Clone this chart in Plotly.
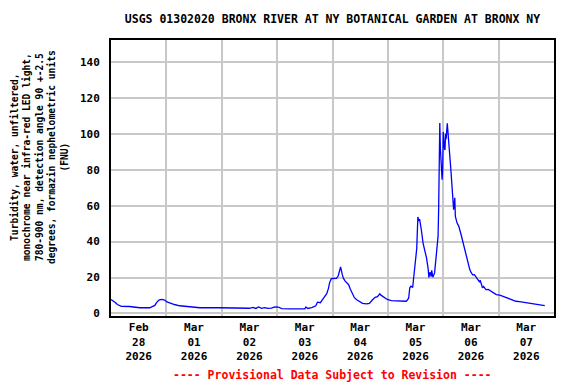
import plotly.graph_objects as go

# ---- data ----
times = [
    "2026-02-28 00:00", "2026-02-28 00:45", "2026-02-28 01:30", "2026-02-28 02:00", "2026-02-28 02:45",
    "2026-02-28 03:45", "2026-02-28 04:30", "2026-02-28 08:00", "2026-02-28 10:15", "2026-02-28 12:30",
    "2026-02-28 16:45", "2026-02-28 17:30", "2026-02-28 19:00", "2026-02-28 19:45", "2026-02-28 20:45",
    "2026-02-28 22:00", "2026-02-28 23:15", "2026-03-01 00:15", "2026-03-01 01:30", "2026-03-01 03:30",
    "2026-03-01 05:45", "2026-03-01 08:00", "2026-03-01 11:30", "2026-03-01 14:30", "2026-03-01 23:00",
    "2026-03-02 10:00", "2026-03-02 12:00", "2026-03-02 13:30", "2026-03-02 14:45", "2026-03-02 16:00",
    "2026-03-02 17:15", "2026-03-02 18:30", "2026-03-02 20:00", "2026-03-02 21:30", "2026-03-02 23:00",
    "2026-03-03 00:30", "2026-03-03 02:00", "2026-03-03 05:30", "2026-03-03 09:45", "2026-03-03 12:00",
    "2026-03-03 12:30", "2026-03-03 13:15", "2026-03-03 15:00", "2026-03-03 16:45", "2026-03-03 17:30",
    "2026-03-03 18:45", "2026-03-03 19:45", "2026-03-03 20:30", "2026-03-03 21:30", "2026-03-03 22:15",
    "2026-03-03 22:45", "2026-03-03 23:30", "2026-03-04 01:00", "2026-03-04 01:45", "2026-03-04 02:30",
    "2026-03-04 03:00", "2026-03-04 03:30", "2026-03-04 04:15", "2026-03-04 04:45", "2026-03-04 05:30",
    "2026-03-04 06:00", "2026-03-04 07:00", "2026-03-04 07:45", "2026-03-04 08:45", "2026-03-04 09:30",
    "2026-03-04 10:30", "2026-03-04 11:45", "2026-03-04 13:00", "2026-03-04 14:45", "2026-03-04 16:00",
    "2026-03-04 17:15", "2026-03-04 18:30", "2026-03-04 19:30", "2026-03-04 20:30", "2026-03-04 21:00",
    "2026-03-04 21:45", "2026-03-04 22:30", "2026-03-04 23:45", "2026-03-05 01:30", "2026-03-05 04:15",
    "2026-03-05 06:30", "2026-03-05 08:00", "2026-03-05 09:00", "2026-03-05 09:30", "2026-03-05 10:00",
    "2026-03-05 10:45", "2026-03-05 11:15", "2026-03-05 12:00", "2026-03-05 12:30", "2026-03-05 13:00",
    "2026-03-05 13:30", "2026-03-05 13:45", "2026-03-05 14:00", "2026-03-05 14:30", "2026-03-05 15:15",
    "2026-03-05 15:30", "2026-03-05 16:00", "2026-03-05 16:45", "2026-03-05 17:30", "2026-03-05 17:45",
    "2026-03-05 18:15", "2026-03-05 18:45", "2026-03-05 19:00", "2026-03-05 19:30", "2026-03-05 20:15",
    "2026-03-05 21:00", "2026-03-05 21:45", "2026-03-05 22:00", "2026-03-05 22:15", "2026-03-05 22:30",
    "2026-03-05 22:45", "2026-03-05 23:15", "2026-03-05 23:30", "2026-03-05 23:45", "2026-03-06 00:00",
    "2026-03-06 00:30", "2026-03-06 00:45", "2026-03-06 01:00", "2026-03-06 01:15", "2026-03-06 01:45",
    "2026-03-06 02:00", "2026-03-06 02:15", "2026-03-06 02:45", "2026-03-06 03:15", "2026-03-06 03:45",
    "2026-03-06 04:15", "2026-03-06 04:30", "2026-03-06 05:00", "2026-03-06 05:15", "2026-03-06 06:00",
    "2026-03-06 06:45", "2026-03-06 07:45", "2026-03-06 08:30", "2026-03-06 09:15", "2026-03-06 10:00",
    "2026-03-06 10:45", "2026-03-06 11:30", "2026-03-06 12:00", "2026-03-06 12:45", "2026-03-06 13:30",
    "2026-03-06 14:30", "2026-03-06 15:00", "2026-03-06 15:45", "2026-03-06 16:00", "2026-03-06 17:00",
    "2026-03-06 17:30", "2026-03-06 18:30", "2026-03-06 19:30", "2026-03-06 20:45", "2026-03-06 21:45",
    "2026-03-06 23:00", "2026-03-07 00:30", "2026-03-07 01:45", "2026-03-07 03:30", "2026-03-07 04:45",
    "2026-03-07 06:00", "2026-03-07 07:30", "2026-03-07 09:00", "2026-03-07 10:30", "2026-03-07 12:00",
    "2026-03-07 13:30", "2026-03-07 14:45", "2026-03-07 16:15", "2026-03-07 17:45", "2026-03-07 19:00",
    "2026-03-07 20:00",
]
turbidity = [
    7.8, 7.2, 6.8, 6.0, 5.0,
    4.2, 4.0, 3.9, 3.5, 3.2,
    3.2, 3.6, 4.5, 6.0, 7.5,
    7.8, 7.5, 6.4, 5.8, 5.0,
    4.3, 4.0, 3.5, 3.2, 3.2,
    3.1, 2.9, 3.4, 2.8, 3.6,
    2.9, 3.3, 2.8, 3.0, 3.7,
    3.6, 2.7, 2.6, 2.6, 2.6,
    3.6, 2.8, 3.3, 4.3, 6.3,
    6.0, 7.8, 9.0, 11.0, 14.0,
    17.2, 19.4, 19.3, 19.6, 21.0,
    24.0, 25.9, 21.6, 19.5, 18.0,
    17.2, 16.0, 13.5, 10.8, 8.8,
    7.6, 6.5, 5.6, 5.4, 5.6,
    7.5, 9.0, 9.4, 11.0, 10.2,
    9.6, 8.6, 7.8, 7.2, 6.9,
    6.6, 6.8, 8.5, 14.3, 15.2,
    14.5, 20.7, 30.0, 36.0, 53.7,
    51.5, 52.5, 49.0, 46.6, 39.2,
    38.0, 35.5, 30.9, 24.4, 20.0,
    23.0, 20.5, 24.0, 20.2, 22.6,
    31.8, 42.9, 57.7, 94.7, 106.0,
    92.0, 80.9, 74.4, 79.9, 101.0,
    92.0, 91.0, 100.0, 97.0, 105.8,
    100.0, 96.6, 89.2, 80.9, 72.5,
    64.2, 57.7, 64.4, 54.0, 50.3,
    48.5, 43.8, 40.1, 35.5, 31.8,
    27.5, 24.4, 23.0, 21.5, 21.6,
    19.5, 18.9, 17.5, 18.5, 14.3,
    15.0, 13.3, 13.4, 12.4, 11.9,
    10.5, 10.2, 9.6, 8.8, 8.2,
    7.5, 6.8, 6.6, 6.3, 5.8,
    5.5, 5.3, 5.0, 4.8, 4.6,
    4.4,
]

label_positions = ["2026-02-28 12:00", "2026-03-01 12:00", "2026-03-02 12:00", "2026-03-03 12:00",
                   "2026-03-04 12:00", "2026-03-05 12:00", "2026-03-06 12:00", "2026-03-07 12:00"]
label_texts = ["Feb<br>28<br>2026", "Mar<br>01<br>2026", "Mar<br>02<br>2026", "Mar<br>03<br>2026",
               "Mar<br>04<br>2026", "Mar<br>05<br>2026", "Mar<br>06<br>2026", "Mar<br>07<br>2026"]
y_ticks = [0, 20, 40, 60, 80, 100, 120, 140]

title_text = "USGS 01302020 BRONX RIVER AT NY BOTANICAL GARDEN AT BRONX NY"
y_title = ("Turbidity, water, unfiltered,<br>monochrome near infra-red LED light,<br>"
           "780-900 nm, detection angle 90 +-2.5<br>degrees, formazin nephelometric units<br>(FNU)")
footer = "---- Provisional Data Subject to Revision ----"

FONT = "DejaVu Sans Mono"
GRID = "#c8c8c8"

# page body adds an 8px offset; figure is sized/positioned to compensate
W, H = 568, 376
ML, MR, MT, MB = 103, 22, 32, 68
PW, PH = W - ML - MR, H - MT - MB

fig = go.Figure()
fig.add_trace(go.Scatter(x=times, y=turbidity, mode="lines",
                         line=dict(color="#0000ff", width=1.3), hoverinfo="skip"))

fig.update_layout(
    width=W, height=H,
    margin=dict(l=ML, r=MR, t=MT, b=MB),
    paper_bgcolor="white", plot_bgcolor="white",
    showlegend=False,
    title=dict(text=title_text, x=(ML + ML + PW) / 2 / W, xanchor="center",
               y=1 - 11 / H, yanchor="middle",
               font=dict(family=FONT, size=11.5, color="black", weight="bold")),
    xaxis=dict(
        type="date",
        range=["2026-02-28 00:00", "2026-03-08 00:00"],
        tickmode="array", tickvals=label_positions, ticktext=label_texts,
        showgrid=False, ticks="",
        tickfont=dict(family=FONT, size=11, color="black", weight="bold"),
        minor=dict(tickmode="linear", tick0="2026-02-28", dtick=86400000,
                   showgrid=True, gridcolor=GRID, gridwidth=1.5, ticks=""),
        showline=True, linecolor="black", linewidth=2, mirror=True,
        zeroline=False,
    ),
    yaxis=dict(
        range=[-1.4, 152.2],
        tickmode="array", tickvals=y_ticks,
        showgrid=True, gridcolor=GRID, gridwidth=1.5,
        ticks="", ticklabelstandoff=7,
        tickfont=dict(family=FONT, size=11, color="black", weight="bold"),
        showline=True, linecolor="black", linewidth=2, mirror=True,
        zeroline=False,
    ),
)

fig.add_annotation(text=y_title, textangle=-90, xref="paper", yref="paper",
                   x=(31 - ML) / PW, y=(MT + PH - 149) / PH,
                   xanchor="center", yanchor="middle", showarrow=False, align="center",
                   font=dict(family=FONT, size=9.6, color="black", weight="bold"))
fig.add_annotation(text=footer, xref="paper", yref="paper",
                   x=0.5, y=(MT + PH - 367) / PH, xanchor="center", yanchor="middle",
                   showarrow=False,
                   font=dict(family=FONT, size=11.5, color="red", weight="bold"))

fig.write_html("out.html")
